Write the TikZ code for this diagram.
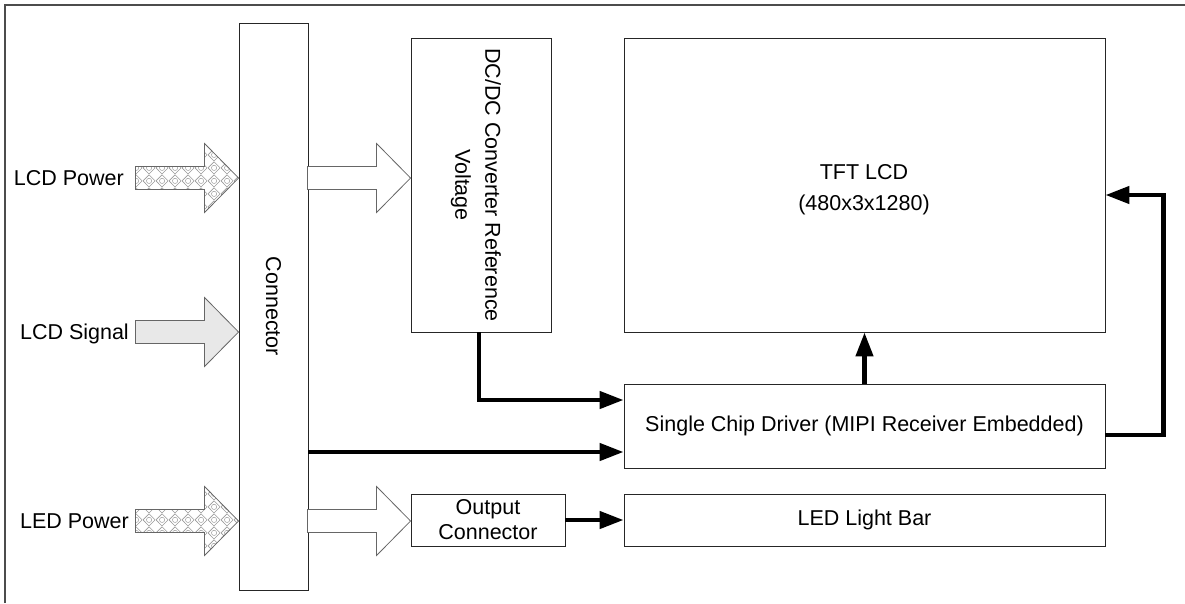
\documentclass[tikz,border=0pt]{standalone}
\usepackage{fontspec}
\usepackage{graphicx}
\setmainfont{Liberation Sans}
\usetikzlibrary{arrows.meta,patterns.meta,calc}

\tikzdeclarepattern{
  name=netting,
  type=uncolored,
  bounding box={(0pt,0pt) and (13pt,13pt)},
  tile size={(13pt,13pt)},
  code={
    \draw[line width=0.6pt] (0pt,6.5pt) -- (6.5pt,0pt) -- (13pt,6.5pt) -- (6.5pt,13pt) -- cycle;
    \draw[line width=0.5pt] (6.5pt,6.5pt) circle[radius=2.8pt];
  }
}

\begin{document}
\begin{tikzpicture}[x=1pt,y=-1pt,
  every node/.style={font=\fontsize{21.5}{25}\selectfont, inner sep=0pt},
  box/.style={draw=black!85, line width=0.9pt, fill=white},
  bold/.style={line width=4.5pt, -{Triangle[length=24pt,width=17pt]}},
  hatched/.style={draw=black!60, line width=0.8pt, preaction={fill=black!8}, pattern=netting, pattern color=black!40},
  plain/.style={draw=black!60, line width=0.8pt, fill=black!9},
  hollow/.style={draw=black!60, line width=0.8pt, fill=white},
  blockarrow/.pic={\path[pic actions] (-103,-11.5) -- (-34,-11.5) -- (-34,-34.5) -- (0,0) -- (-34,34.5) -- (-34,11.5) -- (-103,11.5) -- cycle;}
]
\useasboundingbox (0,0) rectangle (1185,603);

% frame
\draw[black!70, line width=1.6pt] (5,603) -- (5,5) -- (1185,5);

% boxes
\node[box, minimum width=69pt, minimum height=567pt] (conn) at (273.5,306.5) {\rotatebox{-90}{Connector}};
\node[box, minimum width=140pt, minimum height=294pt] (dcdc) at (481,185) {};
\node[align=center, rotate=-90, font=\fontsize{21.5}{30}\selectfont] (dcdctxt) at (476,185) {DC/DC Converter Reference\\Voltage};
\node[box, minimum width=481pt, minimum height=294pt] (tft) at (864.5,185) {};
\node[align=center, font=\fontsize{21.5}{31}\selectfont] (tfttxt) at (864,190) {TFT LCD\\(480x3x1280)};
\node[box, minimum width=481pt, minimum height=84pt] (drv) at (864.5,426) {Single Chip Driver (MIPI Receiver Embedded)};
\node[box, minimum width=481pt, minimum height=52pt] (led) at (864.5,520) {LED Light Bar};
\node[box, minimum width=154pt, minimum height=52pt, align=center] (outc) at (488,520) {Output\\Connector};

% labels
\node[anchor=base east] (lpow) at (124,185.5) {LCD Power};
\node[anchor=base east] (lsig) at (129,339.5) {LCD Signal};
\node[anchor=base east] (ledp) at (129,528.5) {LED Power};

% block arrows
\coordinate (ya) at (0,178);
\coordinate (yb) at (0,332);
\coordinate (yc) at (0,521);
\pic[hatched] at (conn.west |- ya) {blockarrow};
\pic[plain] at (conn.west |- yb) {blockarrow};
\pic[hatched] at (conn.west |- yc) {blockarrow};
\pic[hollow] at (dcdc.west |- ya) {blockarrow};
\pic[hollow] at (outc.west |- yc) {blockarrow};

% bold connectors
\coordinate (d1) at ([yshift=26pt]drv.west);
\coordinate (d2) at ([yshift=-26pt]drv.west);
\draw[bold] ([xshift=-2pt]dcdc.south) |- (d1);
\draw[bold] (conn.east |- d2) -- (d2);
\draw[bold] (drv.north) -- (tft.south);
\draw[bold] ([yshift=-9pt]drv.east) -| ([xshift=58pt,yshift=-10pt]tft.east) -- ([yshift=-10pt]tft.east);
\draw[bold] (outc.east) -- (led.west);
\end{tikzpicture}
\end{document}
